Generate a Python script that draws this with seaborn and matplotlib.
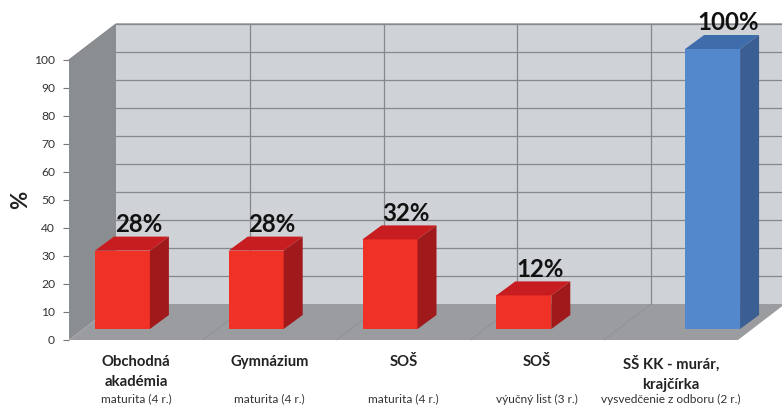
#!/usr/bin/env python3
import numpy as np
import pandas as pd
import matplotlib
matplotlib.use('Agg')
import matplotlib.pyplot as plt
import seaborn as sns

# data
schools = ['Obchodná\nakadémia', 'Gymnázium', 'SOŠ', 'SOŠ', 'SŠ KK - murár,\nkrajčírka']
certificates = ['maturita (4 r.)', 'maturita (4 r.)', 'maturita (4 r.)',
                'výučný list (3 r.)', 'vysvedčenie z odboru (2 r.)']
red_values = [28, 28, 32, 12, np.nan]
blue_values = [np.nan, np.nan, np.nan, np.nan, 100]
y_ticks = list(range(0, 101, 10))

FRONT = {'red': '#f03126', 'blue': '#5389cc'}
TOP = {'red': '#c71d20', 'blue': '#3f6dab'}
SIDE = {'red': '#a01a1c', 'blue': '#3b5f92'}

W, H = 782, 407
PLOT_L, PLOT_R, PLOT_B, PLOT_T = 69, 738, 340, 60   # front plane, pixels
WALL_DX, WALL_DY = 47, 36     # depth of the box
BAR_DX, BAR_DY = 14, 11       # bars stand this far inside the floor
SIDE_DX, SIDE_DY = 19, 14     # depth of each bar

sns.set_theme(style='white')
plt.rcParams['font.family'] = ['Lato', 'DejaVu Sans']

keys = [f'{s} / {c}' for s, c in zip(schools, certificates)]
df = pd.DataFrame({'key': keys, 'red': red_values, 'blue': blue_values})
df = df.melt(id_vars='key', var_name='series', value_name='pct').dropna()


def axes_rect(left, right, bottom, top):
    return [left / W, 1 - bottom / H, (right - left) / W, (bottom - top) / H]


fig = plt.figure(figsize=(W / 100, H / 100), dpi=100, facecolor='white')
ax = fig.add_axes(axes_rect(PLOT_L, PLOT_R, PLOT_B, PLOT_T))
ax_bar = fig.add_axes(axes_rect(PLOT_L + BAR_DX, PLOT_R + BAR_DX, PLOT_B - BAR_DY, PLOT_T - BAR_DY))

x0, x1 = -0.5, len(schools) - 0.5
ymax = y_ticks[-1]
ax.set_xlim(x0, x1)
ax.set_ylim(0, ymax)

# pixels -> data units
px_x = (x1 - x0) / (PLOT_R - PLOT_L)
px_y = ymax / (PLOT_B - PLOT_T)
dx, dy = WALL_DX * px_x, WALL_DY * px_y

# box: back wall, side wall, floor
ax.fill([x0 + dx, x1 + dx, x1 + dx, x0 + dx], [dy, dy, ymax + dy, ymax + dy],
        color='#cfd2d6', lw=0, clip_on=False, zorder=1)
ax.fill([x0, x0 + dx, x0 + dx, x0], [0, dy, ymax + dy, ymax],
        color='#8b8e91', lw=0, clip_on=False, zorder=2)
ax.fill([x0, x1, x1 + dx, x0 + dx], [0, 0, dy, dy],
        color='#9b9c9f', lw=0, clip_on=False, zorder=2)

grid_kw = dict(color='#85888c', lw=0.9, clip_on=False, zorder=3)
for t in y_ticks[1:]:
    ax.plot([x0 + dx, x1 + dx], [t + dy, t + dy], **grid_kw)
for i in range(1, len(schools)):
    ax.plot([x0 + i + dx, x0 + i + dx], [dy, ymax + dy], **grid_kw)
    ax.plot([x0 + i, x0 + i + dx], [0, dy], color='#8d8e91', lw=0.5, clip_on=False, zorder=3)
ax.plot([x0, x0 + dx, x1 + dx], [ymax, ymax + dy, ymax + dy], **grid_kw)

# bars, two series so each one keeps its own slot in the group
sns.barplot(data=df, x='key', y='pct', hue='series', order=keys, hue_order=['red', 'blue'],
            palette=FRONT, width=0.822, gap=0, dodge=True, saturation=1, legend=False, ax=ax_bar)
ax_bar.set_xlim(x0, x1)
ax_bar.set_ylim(0, ymax)
ax_bar.axis('off')
ax_bar.patch.set_alpha(0)

sx, sy = SIDE_DX * px_x, SIDE_DY * px_y
for p in ax_bar.patches:
    h = p.get_height()
    if not np.isfinite(h) or h == 0:
        continue
    p.set_linewidth(0)
    series = 'red' if p.get_facecolor()[0] > 0.7 else 'blue'
    l, r = p.get_x(), p.get_x() + p.get_width()
    ax_bar.fill([l, r, r + sx, l + sx], [h, h, h + sy, h + sy],
                color=TOP[series], lw=0, clip_on=False)
    ax_bar.fill([r, r + sx, r + sx, r], [0, sy, h + sy, h],
                color=SIDE[series], lw=0, clip_on=False)
    ax_bar.annotate(f'{h:.0f}%', (l + p.get_width() / 2, h), xytext=(16 * 0.72, 26 * 0.72),
                    textcoords='offset points', ha='center', va='center',
                    fontsize=17.3, fontweight='bold', color='#111111', annotation_clip=False)

# axes text
for s in ax.spines.values():
    s.set_visible(False)
ax.patch.set_alpha(0)
ax.set_yticks(y_ticks)
ax.set_yticklabels([str(t) for t in y_ticks], fontsize=8.7, color='#333333')
ax.set_xticks(range(len(schools)))
ax.set_xticklabels(schools, fontsize=10.7, fontweight='bold', color='#222222', linespacing=1.55)
ax.tick_params(axis='y', left=True, length=4.3, width=0.8, color='#777777', pad=5.7)
ax.tick_params(axis='x', bottom=False, pad=5)
ax.set_ylabel('%', fontsize=16, fontweight='bold', color='#222222', labelpad=2)
for i, c in enumerate(certificates):
    ax.annotate(c, (i, 0), xytext=(0, -(399 - PLOT_B) * 0.72), textcoords='offset points',
                ha='center', va='center', fontsize=8.6, color='#333333', annotation_clip=False)

fig.savefig('out.png', dpi=100)
